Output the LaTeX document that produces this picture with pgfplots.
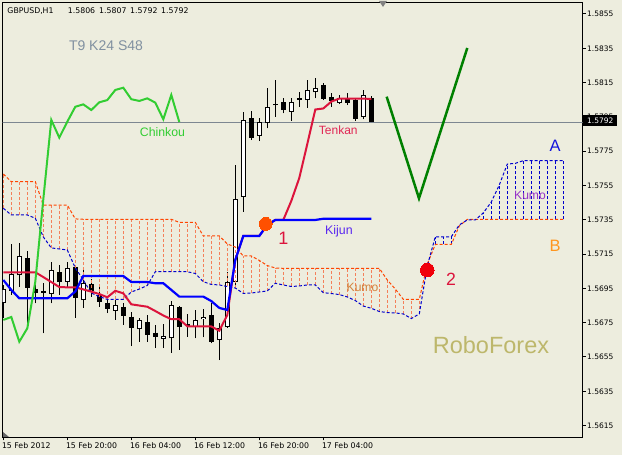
\documentclass[border=0pt]{standalone}
\usepackage{fontspec}
\usepackage{pgfplots}
\pgfplotsset{compat=1.18}
\usepackage{pgfplotstable}
\setmainfont{Liberation Sans}
\newfontfamily\tahoma{DejaVu Sans}
\definecolor{bg}{RGB}{237,237,222}
\definecolor{tenkan}{RGB}{220,20,60}
\definecolor{kijun}{RGB}{0,0,255}
\definecolor{chinkou}{RGB}{50,205,50}
\definecolor{spanA}{RGB}{0,0,205}
\definecolor{spanB}{RGB}{255,69,0}
\definecolor{hatchB}{RGB}{244,128,90}
\definecolor{priceline}{RGB}{125,135,145}
\definecolor{mark1}{RGB}{255,80,0}
\definecolor{mark2}{RGB}{240,0,10}

\pgfplotstableread{
i A B
0 1.57417 1.57617
1 1.57378 1.57572
2 1.57378 1.57572
3 1.57378 1.57572
4 1.57359 1.57572
5 1.57250 1.57436
6 1.57186 1.57436
7 1.57180 1.57436
8 1.57174 1.57436
9 1.57069 1.57355
10 1.56999 1.57353
11 1.56923 1.57353
12 1.56902 1.57353
13 1.56886 1.57353
14 1.56886 1.57353
15 1.56886 1.57353
16 1.56929 1.57353
17 1.56946 1.57353
18 1.56967 1.57353
19 1.57047 1.57353
20 1.57047 1.57353
21 1.57047 1.57353
22 1.57047 1.57335
23 1.57047 1.57335
24 1.57037 1.57335
25 1.56989 1.57256
26 1.56973 1.57256
27 1.56970 1.57256
28 1.56961 1.57209
29 1.56952 1.57191
30 1.56921 1.57139
31 1.56923 1.57139
32 1.56929 1.57113
33 1.56935 1.57083
34 1.56980 1.57069
35 1.56970 1.57067
36 1.56961 1.57067
37 1.56964 1.57067
38 1.56970 1.57067
39 1.56970 1.57067
40 1.56925 1.57067
41 1.56920 1.57067
42 1.56914 1.57067
43 1.56900 1.57067
44 1.56879 1.57067
45 1.56847 1.57067
46 1.56834 1.57067
47 1.56815 1.57067
48 1.56809 1.56999
49 1.56807 1.56946
50 1.56801 1.56886
51 1.56774 1.56886
52 1.56801 1.56886
53 1.57081 1.57092
54 1.57251 1.57206
55 1.57251 1.57206
56 1.57251 1.57206
57 1.57320 1.57314
58 1.57349 1.57352
59 1.57349 1.57352
60 1.57390 1.57352
61 1.57454 1.57352
62 1.57553 1.57352
63 1.57675 1.57352
64 1.57679 1.57352
65 1.57695 1.57352
66 1.57695 1.57352
67 1.57695 1.57352
68 1.57695 1.57352
69 1.57695 1.57352
70 1.57695 1.57352
}\spans

% candle: index, open, high, low, close
\newcommand\wick[3]{\addplot[black, line width=1pt, forget plot] coordinates {(#1,#2)(#1,#3)};}
\newcommand\cw[5]{\wick{#1}{#4}{#3}%
 \addplot[black, line width=5.2pt, forget plot] coordinates {(#1,#2)(#1,#5)};%
 \addplot[white, line width=3.2pt, shorten <=1pt, shorten >=1pt, forget plot] coordinates {(#1,#2)(#1,#5)};}
\newcommand\cb[5]{\wick{#1}{#4}{#3}%
 \addplot[black, line width=5.2pt, forget plot] coordinates {(#1,#2)(#1,#5)};}
\newcommand\cd[5]{\wick{#1}{#4}{#3}%
 \addplot[black, line width=5.2pt, shorten <=-0.4pt, shorten >=-0.4pt, forget plot] coordinates {(#1,#2)(#1,#5)};}

\begin{document}
\begin{tikzpicture}[x=1pt,y=1pt]
\fill[bg] (0,0) rectangle (622,455);
\begin{axis}[
  at={(2.5pt,17.5pt)}, anchor=south west,
  scale only axis, width=580pt, height=435pt,
  xmin=-0.1, xmax=72.4, ymin=1.560805, ymax=1.58617,
  axis line style={black, line width=1pt},
  xtick pos=left, ytick pos=right,
  tick align=outside, major tick length=3pt,
  tick style={black, line width=1pt},
  xtick={0,8,16,24,32,40},
  xticklabels={15 Feb 2012,15 Feb 20:00,16 Feb 04:00,16 Feb 12:00,16 Feb 20:00,17 Feb 04:00},
  xticklabel style={font=\tahoma\fontsize{7.8}{9}\selectfont, anchor=north west, inner sep=0pt, xshift=-1.5pt, yshift=-2pt},
  ytick={1.5615,1.5635,1.5655,1.5675,1.5695,1.5715,1.5735,1.5755,1.5775,1.5795,1.5815,1.5835,1.5855},
  yticklabels={1.5615,1.5635,1.5655,1.5675,1.5695,1.5715,1.5735,1.5755,1.5775,1.5795,1.5815,1.5835,1.5855},
  yticklabel style={font=\tahoma\fontsize{7.5}{9}\selectfont, anchor=west, inner sep=0pt, xshift=1.5pt},
]
% bid line
\addplot[priceline, line width=1pt, forget plot] coordinates {(-1,1.5792) (73,1.5792)};

% candles
\cw{0}{1.56863}{1.56970}{1.56777}{1.56945}
\cw{1}{1.56935}{1.57209}{1.56912}{1.57032}
\cw{2}{1.57026}{1.57213}{1.56960}{1.57139}
\cb{3}{1.57125}{1.57170}{1.56727}{1.56951}
\cb{4}{1.56945}{1.57046}{1.56863}{1.56921}
\cb{5}{1.56935}{1.56981}{1.56688}{1.56921}
\cw{6}{1.56916}{1.57106}{1.56863}{1.57057}
\cb{7}{1.57044}{1.57086}{1.56912}{1.56989}
\cw{8}{1.56986}{1.57106}{1.56954}{1.57067}
\cb{9}{1.57076}{1.57086}{1.56779}{1.56892}
\cw{10}{1.56882}{1.57057}{1.56837}{1.56980}
\cb{11}{1.56974}{1.57005}{1.56902}{1.56936}
\cb{12}{1.56912}{1.56960}{1.56843}{1.56872}
\cb{13}{1.56867}{1.56892}{1.56805}{1.56832}
\cw{14}{1.56820}{1.56882}{1.56766}{1.56853}
\cb{15}{1.56842}{1.56863}{1.56737}{1.56789}
\cb{16}{1.56785}{1.56814}{1.56614}{1.56721}
\cw{17}{1.56711}{1.56776}{1.56639}{1.56766}
\cb{18}{1.56752}{1.56795}{1.56639}{1.56678}
\cb{19}{1.56692}{1.56737}{1.56601}{1.56668}
\cw{20}{1.56657}{1.56742}{1.56601}{1.56672}
\cw{21}{1.56659}{1.56876}{1.56575}{1.56851}
\cb{22}{1.56842}{1.56845}{1.56591}{1.56727}
\cd{23}{1.56742}{1.56799}{1.56668}{1.56735}
\cw{24}{1.56727}{1.56824}{1.56659}{1.56766}
\cw{25}{1.56770}{1.56828}{1.56665}{1.56783}
\cb{26}{1.56795}{1.56863}{1.56630}{1.56639}
\cw{27}{1.56649}{1.56746}{1.56532}{1.56717}
\cw{28}{1.56727}{1.57047}{1.56720}{1.56989}
\cw{29}{1.56989}{1.57669}{1.56970}{1.57469}
\cw{30}{1.57485}{1.57980}{1.57397}{1.57932}
\cb{31}{1.57942}{1.57984}{1.57815}{1.57829}
\cw{32}{1.57840}{1.57945}{1.57809}{1.57922}
\cw{33}{1.57913}{1.58120}{1.57883}{1.58009}
\cd{34}{1.58019}{1.58165}{1.57951}{1.58023}
\cb{35}{1.58035}{1.58058}{1.57971}{1.57990}
\cw{36}{1.57980}{1.58058}{1.57926}{1.58035}
\cb{37}{1.58058}{1.58093}{1.58009}{1.58048}
\cw{38}{1.58048}{1.58165}{1.58004}{1.58107}
\cw{39}{1.58093}{1.58175}{1.58058}{1.58120}
\cb{40}{1.58136}{1.58146}{1.58048}{1.58053}
\cb{41}{1.58064}{1.58088}{1.58009}{1.58043}
\cw{42}{1.58033}{1.58078}{1.58025}{1.58058}
\cb{43}{1.58053}{1.58089}{1.58019}{1.58033}
\cb{44}{1.58048}{1.58058}{1.57926}{1.57936}
\cw{45}{1.57951}{1.58107}{1.57936}{1.58078}
\cb{46}{1.58060}{1.58070}{1.57920}{1.57920}

% kumo hatching: one dashed vertical per bar between span A and span B
\pgfplotsinvokeforeach{0,...,70}{%
  \pgfplotstablegetelem{#1}{A}\of\spans \let\hA\pgfplotsretval
  \pgfplotstablegetelem{#1}{B}\of\spans \let\hB\pgfplotsretval
  \pgfmathtruncatemacro\hup{(\hB>\hA) ? 1 : 0}%
  \ifnum\hup=1
    \edef\tmp{\noexpand\addplot[hatchB, line width=1pt, dash pattern=on 3pt off 2pt, forget plot] coordinates {(#1,\hA)(#1,\hB)};}%
  \else
    \edef\tmp{\noexpand\addplot[spanA, line width=1pt, dash pattern=on 3pt off 2pt, forget plot] coordinates {(#1,\hB)(#1,\hA)};}%
  \fi
  \tmp
}
% senkou spans
\addplot[spanB, line width=1pt, dash pattern=on 3pt off 2pt] table[x=i, y=B] {\spans};
\addplot[spanA, line width=1pt, dash pattern=on 3pt off 2pt] table[x=i, y=A] {\spans};

% tenkan
\addplot[tenkan, line width=2pt] coordinates {
(0,1.57044)(1,1.57044)(2,1.57044)(3,1.57044)(4,1.57044)(5,1.57016)(6,1.56987)(7,1.56958)(8,1.56956)(9,1.56956)
(10,1.56944)(11,1.56931)(12,1.56917)(13,1.56898)(14,1.56936)(15,1.56921)(16,1.56857)(17,1.56850)(18,1.56843)(19,1.56818)
(20,1.56792)(21,1.56770)(22,1.56770)(23,1.56729)(24,1.56728)(25,1.56728)(26,1.56728)(27,1.56703)(28,1.56795)(29,1.57116)
(30,1.57256)(31,1.57256)(32,1.57256)(33,1.57320)(34,1.57349)(35,1.57349)(36,1.57460)(37,1.57594)(38,1.57792)(39,1.57993)
(40,1.57999)(41,1.58039)(42,1.58057)(43,1.58057)(44,1.58057)(45,1.58057)(46,1.58054)};
% kijun
\addplot[kijun, line width=2.2pt] coordinates {
(0,1.56999)(1,1.56941)(2,1.56892)(8,1.56892)(9,1.56932)(10,1.57022)(15,1.57022)(16,1.56987)(18,1.56987)(19,1.56980)
(20,1.56980)(21,1.56941)(22,1.56902)(25,1.56902)(26,1.56876)(27,1.56836)(28,1.56824)(29,1.57116)(30,1.57256)(32,1.57256)
(33,1.57320)(34,1.57349)(39,1.57349)(40,1.57356)(46,1.57356)};
% chinkou
\addplot[chinkou, line width=2pt] coordinates {
(0,1.56766)(1,1.56783)(2,1.56639)(3,1.56717)(4,1.56989)(5,1.57469)(6,1.57932)(7,1.57829)(8,1.57922)(9,1.58009)
(10,1.58023)(11,1.57990)(12,1.58035)(13,1.58048)(14,1.58107)(15,1.58120)(16,1.58053)(17,1.58043)(18,1.58058)(19,1.58033)
(20,1.57936)(21,1.58078)(22,1.57920)};

% forecast V
\addplot[green!50!black, line width=2.5pt] coordinates {(47.92,1.58068) (51.96,1.57475) (58.0,1.58352)};
% markers
\addplot[mark1, only marks, mark=*, mark size=6.5pt, mark options={draw=mark1, fill=mark1, line width=0pt}] coordinates {(32.8,1.57326)};
\addplot[mark2, only marks, mark=*, mark size=6.8pt, mark options={draw=mark2, fill=mark2, line width=0pt}] coordinates {(53.0,1.57057)};
\end{axis}

% header
\node[anchor=base west, inner sep=0pt, font=\tahoma\fontsize{7.8}{9}\selectfont] at (7.3,441.7) {GBPUSD,H1};
\node[anchor=base west, inner sep=0pt, font=\tahoma\fontsize{7.8}{9}\selectfont] at (67.7,441.7) {1.5806};
\node[anchor=base west, inner sep=0pt, font=\tahoma\fontsize{7.8}{9}\selectfont] at (99,441.7) {1.5807};
\node[anchor=base west, inner sep=0pt, font=\tahoma\fontsize{7.8}{9}\selectfont] at (130,441.7) {1.5792};
\node[anchor=base west, inner sep=0pt, font=\tahoma\fontsize{7.8}{9}\selectfont] at (161,441.7) {1.5792};
% current price box
\node[fill=black, text=white, inner sep=0pt, minimum width=34pt, minimum height=11pt, font=\tahoma\fontsize{7.5}{9}\selectfont] at (600.3,334.5) {1.5792};
% chart shift marker
\fill[gray] (379,454) -- (387,454) -- (383,448) -- cycle;
\fill[gray!80!black] (3,18) -- (9,18) -- (3,23) -- cycle;

% annotations
\node[anchor=base, inner sep=0pt, font=\fontsize{14}{16}\selectfont, text={rgb,255:red,128;green,144;blue,160}] at (106,404.3) {T9 K24 S48};
\node[anchor=base, inner sep=0pt, font=\fontsize{12.3}{14}\selectfont, text=chinkou] at (162.5,318.3) {Chinkou};
\node[anchor=base, inner sep=0pt, font=\fontsize{12}{14}\selectfont, text={rgb,255:red,225;green,40;blue,85}] at (338.3,320.7) {Tenkan};
\node[anchor=base, inner sep=0pt, font=\fontsize{12.4}{14}\selectfont, text={rgb,255:red,90;green,40;blue,240}] at (339,220.5) {Kijun};
\node[anchor=base, inner sep=0pt, font=\fontsize{12.1}{14}\selectfont, text={rgb,255:red,210;green,130;blue,60}] at (362.5,163.3) {Kumo};
\node[anchor=base, inner sep=0pt, font=\fontsize{12.1}{14}\selectfont, text={rgb,255:red,150;green,50;blue,200}] at (530,255.7) {Kumo};
\node[anchor=base, inner sep=0pt, font=\fontsize{16.5}{18}\selectfont, text={rgb,255:red,20;green,20;blue,220}] at (555,303.3) {A};
\node[anchor=base, inner sep=0pt, font=\fontsize{16.5}{18}\selectfont, text={rgb,255:red,255;green,150;blue,30}] at (555,203.3) {B};
\node[anchor=base, inner sep=0pt, font=\fontsize{18}{20}\selectfont, text=tenkan] at (283.3,210) {1};
\node[anchor=base, inner sep=0pt, font=\fontsize{17.7}{20}\selectfont, text=tenkan] at (451,169) {2};
\node[anchor=base, inner sep=0pt, font=\fontsize{23.5}{26}\selectfont, text={rgb,255:red,189;green,183;blue,107}] at (491,101) {RoboForex};

\pgfresetboundingbox
\path[use as bounding box] (0,0) rectangle (622,455);
\end{tikzpicture}
\end{document}
